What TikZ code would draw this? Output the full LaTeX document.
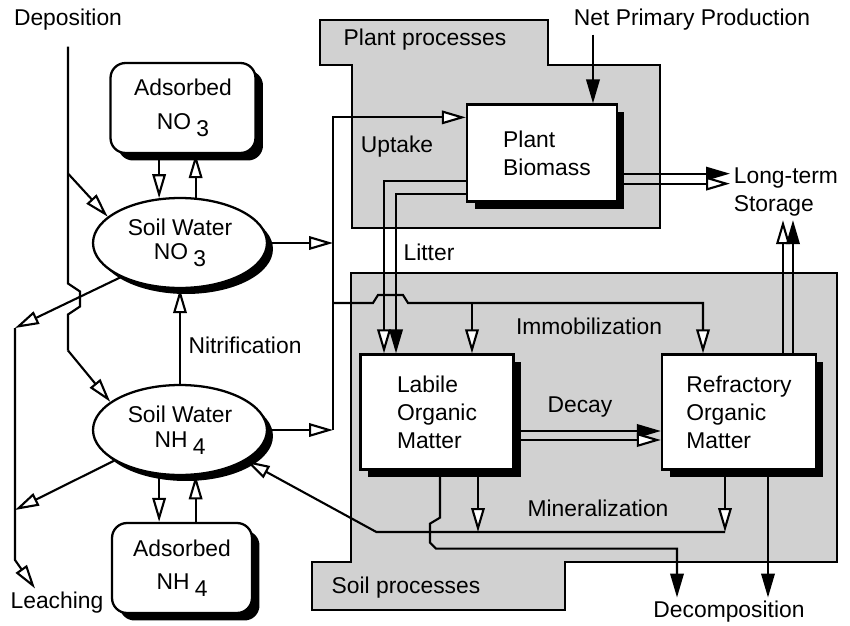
\documentclass[tikz,border=0pt]{standalone}
\usepackage{fontspec}
\setmainfont{Liberation Sans}
\usetikzlibrary{positioning, arrows.meta, shapes.geometric, shadows, calc}

\definecolor{stippleGray}{gray}{0.82}
\newcommand{\subnum}[1]{\hspace{3pt}\raisebox{-4pt}{#1}}

\begin{document}
\begin{tikzpicture}[
  x=0.02cm, y=-0.02cm,
  % Styles
  txt/.style={font=\fontsize{13}{16}\selectfont, inner sep=2pt},
  pool/.style={
    rectangle, draw, line width=1.3pt, fill=white,
    txt, align=left, inner sep=0pt,
    drop shadow={shadow xshift=0.15cm, shadow yshift=-0.15cm, fill=black, opacity=1}
  },
  adsorbed/.style={pool, rounded corners=0.3cm, align=center,
    minimum width=2.9cm, minimum height=1.8cm},
  water/.style={
    ellipse, draw, line width=1.3pt, fill=white, txt, align=center,
    inner sep=0pt, minimum width=3.48cm, minimum height=1.8cm,
    drop shadow={shadow xshift=0.12cm, shadow yshift=-0.12cm, fill=black, opacity=1}
  },
  region/.style={draw, line width=1.3pt, fill=stippleGray},
  link/.style={line width=1.2pt},
  nflow/.style={link, -{Triangle[fill=white, length=0.48cm, width=0.27cm]}},
  cflow/.style={link, -{Triangle[length=0.48cm, width=0.27cm]}},
]
\useasboundingbox (0,0) rectangle (850,626);

% === PROCESS REGIONS ===
\draw[region] (320,20) -- (548,20) -- (548,65) -- (660,65) -- (660,228)
  -- (352,228) -- (352,65) -- (320,65) -- cycle;
\draw[region] (351,273) -- (837,273) -- (837,562) -- (565,562) -- (565,610)
  -- (312,610) -- (312,562) -- (351,562) -- cycle;

% === POOLS ===
\node[adsorbed] (adsno3) at (183,108) {Adsorbed\\[3pt]NO\subnum{3}};
\node[water] (no3) at (180,243) {Soil Water\\[-2pt]NO\subnum{3}};
\node[water] (nh4) at (180,430) {Soil Water\\[-2pt]NH\subnum{4}};
\node[adsorbed, minimum width=2.8cm] (adsnh4) at (182,568) {Adsorbed\\[3pt]NH\subnum{4}};
\node[pool, minimum width=3cm, minimum height=1.94cm] (biomass) at (542,153) {\hspace{0.2cm}Plant\\\hspace{0.2cm}Biomass};
\node[pool, minimum width=3.06cm, minimum height=2.3cm] (labile) at (437,412) {Labile\\Organic\\Matter};
\node[pool, minimum width=3.08cm, minimum height=2.3cm] (refr) at (739,412) {Refractory\\Organic\\Matter};

% === SOURCES AND SINKS ===
\node[txt] (dep) at (68,20) {Deposition};
\node[txt] (leach) at (57,603) {Leaching};
\node[txt] (npp) at (692,20) {Net Primary Production};
\node[txt, anchor=west, align=left] (storage) at (730,192) {Long-term\\Storage};
\node[txt] (decomp) at (729,612) {Decomposition};

% === PROCESS LABELS ===
\node[txt] (plantlbl) at (425,40) {Plant processes};
\node[txt] (soillbl) at (406,588) {Soil processes};
\node[txt] (uptakelbl) at (397,147) {Uptake};
\node[txt] (litterlbl) at (429,252) {Litter};
\node[txt] (nitrlbl) at (245,345) {Nitrification};
\node[txt] (immolbl) at (589,326) {Immobilization};
\node[txt] (decaylbl) at (580,407) {Decay};
\node[txt] (minlbl) at (598,508) {Mineralization};

% === HELPER COORDINATES ===
\coordinate (upbus) at (333,0);
\coordinate (immoY) at (0,303);
\coordinate (minY) at (0,532);
\coordinate (leachA) at (15,328);
\coordinate (leachB) at (15,510);
\coordinate (leachC) at (15,560);
\coordinate (leachTip) at ([xshift=-0.44cm]leach.north);

% === DEPOSITION ===
\draw[link] ([yshift=-0.24cm]dep.south) -- ++(0,127) coordinate (depfork)
  -- ++(0,110) -- ++(12,8) -- ++(0,15) -- ++(-12,8) -- ++(0,36) coordinate (depbend);
\draw[nflow] (depfork) -- (no3.160);
\draw[nflow] (depbend) -- (nh4.158);

% === LEACHING ===
\draw[nflow] (no3.210) -- (leachA);
\draw[nflow] (nh4.205) -- (leachB);
\draw[nflow] (leachA) -- (leachC) -- (leachTip);

% === ADSORPTION ===
\draw[nflow] (adsno3.south -| no3.115) -- (no3.115);
\draw[nflow] (no3.71) -- (no3.71 |- adsno3.south);
\draw[nflow] (nh4.245) -- (nh4.245 |- adsnh4.north);
\draw[nflow] (adsnh4.north -| nh4.289) -- (nh4.289);

% === NITRIFICATION ===
\draw[nflow] (nh4.north) -- (no3.south);

% === UPTAKE ===
\coordinate (upIn) at ([yshift=-0.28cm]biomass.north west);
\draw[nflow] (no3.east) -- (no3.east -| upbus);
\draw[nflow] (nh4.east) -- (nh4.east -| upbus);
\draw[nflow] (nh4.east -| upbus) -- (upbus |- upIn) -- (upIn);

% === IMMOBILIZATION ===
\coordinate (imL) at ([xshift=0.7cm]labile.north);
\coordinate (imR) at ([xshift=-0.72cm]refr.north);
\draw[nflow] (upbus |- immoY) -- ++(40,0) -- ++(5,-8) -- ++(25,0) -- ++(5,8)
  -- (imR |- immoY) -- (imR);
\draw[nflow] (imL |- immoY) -- (imL);

% === LITTER ===
\coordinate (litN) at ([yshift=0.44cm]biomass.south west);
\coordinate (litC) at ([yshift=0.18cm]biomass.south west);
\coordinate (litNin) at ([xshift=-1.06cm]labile.north);
\coordinate (litCin) at ([xshift=-0.82cm]labile.north);
\draw[nflow] (litN) -- (litNin |- litN) -- (litNin);
\draw[cflow] (litC) -- (litCin |- litC) -- (litCin);

% === NET PRIMARY PRODUCTION ===
\coordinate (nppIn) at ([xshift=1.02cm]biomass.north);
\draw[cflow] (npp.south -| nppIn) -- (nppIn);

% === LONG-TERM STORAGE ===
\coordinate (stC) at ([yshift=0.58cm]biomass.south east);
\coordinate (stN) at ([yshift=0.38cm]biomass.south east);
\draw[cflow] (stC) -- (stC -| storage.west);
\draw[nflow] (stN) -- (stN -| storage.west);
\coordinate (rsN) at ([xshift=0.88cm]refr.north);
\coordinate (rsC) at ([xshift=1.08cm]refr.north);
\draw[nflow] (rsN) -- (rsN |- storage.south);
\draw[cflow] (rsC) -- (rsC |- storage.south);

% === DECAY ===
\coordinate (dyC) at ([yshift=-0.38cm]labile.east);
\coordinate (dyN) at ([yshift=-0.56cm]labile.east);
\draw[cflow] (dyC) -- (dyC -| refr.west);
\draw[nflow] (dyN) -- (dyN -| refr.west);

% === MINERALIZATION ===
\coordinate (mnL) at ([xshift=0.82cm]labile.south);
\coordinate (mnR) at ([xshift=-0.28cm]refr.south);
\coordinate (mnBend) at ([xshift=0.34cm]labile.south west |- minY);
\draw[nflow] (mnL) -- (mnL |- minY);
\draw[nflow] (mnR) -- (mnR |- minY);
\draw[nflow] (mnR |- minY) -- (mnBend) -- (nh4.335);

% === DECOMPOSITION ===
\coordinate (dcL) at ([xshift=-1.04cm]decomp.north);
\coordinate (dcR) at ([xshift=0.58cm]refr.south);
\draw[cflow] ([xshift=0.06cm]labile.south) -- ++(0,47) -- ++(-10,6) -- ++(0,19)
  -- ++(6,6) -| (dcL);
\draw[cflow] (dcR) -- (dcR |- decomp.north);

\end{tikzpicture}
\end{document}
